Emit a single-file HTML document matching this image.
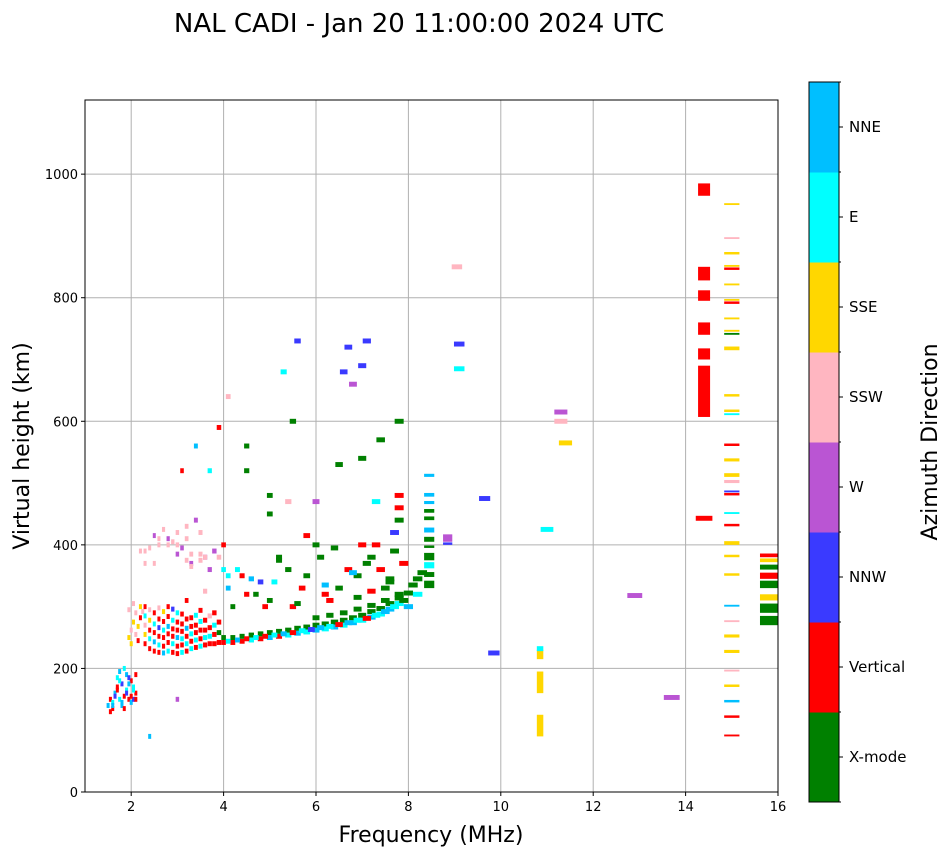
<!DOCTYPE html>
<html><head><meta charset="utf-8">
<style>
body{margin:0;background:#fff;font-family:"Liberation Sans","DejaVu Sans",sans-serif;}
svg text{font-family:"DejaVu Sans","Liberation Sans",sans-serif;}
</style></head>
<body>
<svg id="chart" width="951" height="856" xmlns="http://www.w3.org/2000/svg">
<text x="419" y="32" font-size="26" text-anchor="middle">NAL CADI - Jan 20 11:00:00 2024 UTC</text>
<g id="grid"></g>
<g id="marks"></g>
<rect x="85" y="100" width="693" height="692" fill="none" stroke="#000" stroke-width="1"/>
<g id="axes"></g>
<text x="431" y="842" font-size="22" text-anchor="middle">Frequency (MHz)</text>
<text transform="translate(29,446) rotate(-90)" font-size="22" text-anchor="middle">Virtual height (km)</text>
<g id="cbar"></g>
<text transform="translate(937,442) rotate(-90)" font-size="22" text-anchor="middle">Azimuth Direction</text>
</svg>
<script>
const catNames=["X-mode","Vertical","NNW","W","SSW","SSE","E","NNE"];
const catColors=["#008000","#ff0000","#3a3aff","#ba55d3","#ffb6c1","#ffd700","#00ffff","#00bfff"];
const xTicks=[2,4,6,8,10,12,14,16];
const yTicks=[0,200,400,600,800,1000];
const traceF=[1.5,1.55,1.6,1.65,1.7,1.75,1.8,1.85,1.9,1.95,2.0,2.05,2.1,1.7,1.9,2.0,2.05,1.6,1.8,
1.55,1.6,1.65,1.7,1.75,1.8,1.85,1.9,1.95,2.0,2.05,2.1,1.75,1.85,1.95,2.1,
1.95,2.0,2.05,2.1,2.15,2.2,2.25,2.0,2.1,2.2,1.95,2.05,2.15,
2.3,2.3,2.3,2.3,2.3,2.4,2.4,2.4,2.4,2.4,2.5,2.5,2.5,2.5,2.5,2.6,2.6,2.6,2.6,2.6,2.6,2.7,2.7,2.7,2.7,2.7,2.7,
2.8,2.8,2.8,2.8,2.8,2.8,2.9,2.9,2.9,2.9,2.9,2.9,3.0,3.0,3.0,3.0,3.0,3.0,3.1,3.1,3.1,3.1,3.1,3.1,
3.2,3.2,3.2,3.2,3.2,3.2,3.3,3.3,3.3,3.3,3.3,3.4,3.4,3.4,3.4,3.4,3.5,3.5,3.5,3.5,3.5,3.6,3.6,3.6,3.6,
3.7,3.7,3.7,3.7,3.8,3.8,3.8,3.8,3.9,3.9,3.9,
4.0,4.2,4.4,4.6,4.8,5.0,5.2,5.4,5.6,5.8,6.0,6.2,6.4,6.6,6.8,7.0,7.2,7.4,7.6,7.8,
4.0,4.2,4.4,4.6,4.8,5.0,5.2,5.4,5.6,5.8,6.0,6.2,6.4,6.6,6.8,7.0,7.2,7.4,7.6,7.8,
4.1,4.3,4.5,4.7,4.9,5.1,5.3,5.5,5.7,5.9,6.1,6.3,6.5,6.7,6.9,7.1,7.3,7.5,7.7,7.9,
6.0,6.3,6.6,6.9,7.2,7.5,7.8,8.0,8.1,8.2,8.3,8.0,8.2,
4.2,4.5,4.8,5.0,5.2,5.5,5.8,6.0,6.2,6.5,6.7,6.9,7.0,7.2,7.4,7.6,7.8,7.7,4.0,4.3,3.8,3.5,3.2,3.0,3.3,3.6,2.3,2.5,3.1,3.4,3.7,3.9,4.1,4.5,5.0,5.5,5.6,6.7,6.6,7.1,7.0,6.8,7.4,7.8,4.5,5.0,5.4,6.0,6.5,7.0,7.3,5.3,3.0,2.4,
4.1,4.4,4.7,5.1,5.4,5.7,6.1,6.3,6.8,7.1,7.3,7.5,7.7,7.9,4.6,5.2,5.8,6.4,7.2,7.6,6.9,6.2,5.6,4.9,4.0,3.6,7.8,7.8,
2.2,2.4,2.6,2.8,3.0,3.2,3.4,3.6,2.5,2.7,2.9,3.1,3.3,3.5,2.3,2.6,3.0,3.3,3.7,2.8,3.2,3.5,3.9,4.1,
9.05,9.1,9.1,9.65,9.85,11.0,11.3,11.3,11.4,12.9,13.7,14.4];
const traceH=[140,150,145,160,170,150,140,155,165,150,145,170,160,185,190,180,150,135,175,
130,140,155,165,180,145,135,160,175,155,165,150,195,200,185,190,
250,262,275,255,268,282,292,240,290,300,295,305,245,
240,255,270,285,300,232,248,262,278,295,228,243,258,272,290,226,238,252,266,280,298,225,236,250,262,276,292,
228,242,256,268,284,300,226,240,252,264,278,296,224,236,250,262,275,290,226,238,248,260,272,288,
228,240,252,265,280,310,232,244,256,268,282,234,246,258,270,286,236,248,262,276,294,238,250,262,278,
240,252,266,285,240,255,270,290,242,258,275,
242,242,244,246,248,250,252,254,257,259,262,264,267,270,274,278,283,288,296,305,
250,250,252,254,256,258,260,262,265,267,270,272,275,278,282,286,292,297,305,314,
244,246,248,250,252,254,256,258,261,263,266,268,271,274,278,281,286,292,300,310,
282,286,290,296,302,310,320,322,335,345,355,300,320,
300,320,340,310,380,300,350,400,320,330,360,350,400,380,360,340,460,390,400,360,390,420,410,400,370,380,390,370,520,560,520,590,640,560,480,600,730,720,680,730,690,660,570,600,520,450,470,470,530,540,470,680,150,90,
330,350,320,340,360,330,380,310,355,370,400,330,420,370,345,375,415,395,325,345,315,335,305,300,360,325,440,480,
390,395,400,410,420,430,440,380,415,425,405,395,385,375,370,410,385,365,360,400,375,385,380,350,
850,725,685,475,225,425,615,600,565,318,153,443];
const traceC=[7,1,6,7,1,6,7,1,6,1,7,6,1,6,7,1,2,1,2,
1,7,2,1,6,7,1,2,7,1,6,1,7,6,2,1,
5,4,5,4,5,1,4,5,4,5,4,4,1,
1,5,4,6,1,1,6,1,5,4,1,7,1,6,1,1,6,1,2,1,4,7,1,1,6,1,5,
6,1,1,7,1,1,1,6,1,1,6,2,1,1,7,1,1,6,6,1,6,1,1,1,
1,6,1,7,1,1,6,1,6,1,1,1,6,1,1,6,6,1,1,6,1,1,6,1,1,
1,6,1,4,1,1,6,1,1,0,1,
1,1,1,6,1,7,1,6,7,6,7,6,7,6,7,6,7,6,7,6,
0,0,0,0,0,0,0,0,0,0,0,0,0,0,0,0,0,0,0,0,
6,7,1,6,1,6,7,1,6,2,7,6,1,7,6,1,6,7,6,0,
0,0,0,0,0,0,0,0,0,0,0,7,6,
0,1,2,0,0,1,0,0,1,0,1,0,1,0,1,0,1,0,1,6,3,4,4,4,3,3,4,4,1,7,6,1,4,0,0,0,2,2,2,2,2,3,0,0,0,0,4,3,0,0,6,6,3,7,
7,1,0,6,0,1,0,1,7,0,1,0,2,1,7,0,1,0,1,0,0,7,0,1,6,4,0,1,
4,4,4,3,4,4,3,4,3,4,4,3,4,4,4,4,3,4,3,4,4,4,4,6,
4,2,6,2,2,6,3,4,5,3,3,1];
const barF=[8.45,8.45,8.45,8.45,8.45,8.45,8.45,8.45,8.45,8.45,8.45,8.45,8.85,8.85,10.85,10.85,10.85,10.85,14.4,14.4,14.4,14.4,14.4,14.4,
15.0,15.0,15.0,15.0,15.0,15.0,15.0,15.0,15.0,15.0,15.0,15.0,15.0,15.0,15.0,15.0,15.0,15.0,15.0,15.0,15.0,15.0,15.0,15.0,15.0,15.0,15.0,15.0,15.0,15.0,15.0,15.0,15.0,15.0,15.0,
15.8,15.8,15.8,15.8,15.8,15.8,15.8,15.8];
const barH=[330,348,362,375,395,405,420,440,452,466,478,510,400,405,90,160,215,228,607,700,740,795,828,965,
90,120,145,170,195,225,250,275,300,350,380,400,430,450,480,485,500,510,535,560,610,615,640,715,740,745,765,790,795,820,845,850,870,895,950,
270,290,310,330,345,360,372,380];
const barSpan=[12,8,10,12,4,8,8,6,6,5,6,5,4,12,35,35,15,8,83,18,20,17,22,20,
3,4,4,4,3,5,5,3,3,4,4,6,4,3,4,3,5,6,5,4,3,4,4,6,3,3,3,4,3,3,4,3,4,3,3,
15,15,10,12,10,8,6,6];
const barW=[0.22,0.22,0.22,0.22,0.22,0.22,0.22,0.22,0.22,0.22,0.22,0.22,0.2,0.2,0.14,0.14,0.14,0.14,0.26,0.26,0.26,0.26,0.26,0.26,
0.33,0.33,0.33,0.33,0.33,0.33,0.33,0.33,0.33,0.33,0.33,0.33,0.33,0.33,0.33,0.33,0.33,0.33,0.33,0.33,0.33,0.33,0.33,0.33,0.33,0.33,0.33,0.33,0.33,0.33,0.33,0.33,0.33,0.33,0.33,
0.38,0.38,0.38,0.38,0.38,0.38,0.38,0.38];
const barC=[0,0,6,0,0,0,7,0,0,7,7,7,2,3,5,5,5,6,1,1,1,1,1,1,
1,1,7,5,4,5,5,4,7,5,5,5,1,6,1,2,4,5,5,1,6,5,5,5,0,5,5,1,5,5,1,5,5,4,5,
0,0,5,0,1,0,5,1];
const X0=1.0,X1=16.0,Y0=0,Y1=1120,PL=85,PR=778,PT=100,PB=792;
function xs(f){return PL+(f-X0)/(X1-X0)*(PR-PL);}
function ys(h){return PB-(h-Y0)/(Y1-Y0)*(PB-PT);}
const NS="http://www.w3.org/2000/svg";
function mk(tag,attrs,parent){const e=document.createElementNS(NS,tag);for(const k in attrs)e.setAttribute(k,attrs[k]);parent.appendChild(e);return e;}
const grid=document.getElementById('grid'),axes=document.getElementById('axes'),marks=document.getElementById('marks'),cbar=document.getElementById('cbar');
xTicks.forEach(t=>{const x=xs(t);
const g=mk('line',{x1:x,x2:x,y1:PT,y2:PB,stroke:'#b0b0b0','stroke-width':1},grid);

mk('line',{x1:x,x2:x,y1:PB,y2:PB+4,stroke:'#000'},axes);
const l=mk('text',{x:x,y:PB+19,'font-size':13,'text-anchor':'middle'},axes);l.textContent=t;
});
yTicks.forEach(t=>{const y=ys(t);
const g=mk('line',{x1:PL,x2:PR,y1:y,y2:y,stroke:'#b0b0b0','stroke-width':1},grid);

mk('line',{x1:PL-4,x2:PL,y1:y,y2:y,stroke:'#000'},axes);
const l=mk('text',{x:PL-7,y:y+5,'font-size':13,'text-anchor':'end'},axes);l.textContent=t;
});
const pxPerMHz=(PR-PL)/(X1-X0),pxPerKm=(PB-PT)/(Y1-Y0);
traceF.forEach((f,i)=>{if(traceH[i]===undefined)return;const w=Math.max(3,0.025*f*pxPerMHz);
const r=mk('rect',{x:xs(f)-w/2,y:ys(traceH[i]+4),width:w,height:8*pxPerKm,fill:catColors[traceC[i]]},marks);
});
barF.forEach((f,i)=>{const w=barW[i]*pxPerMHz;
const r=mk('rect',{x:xs(f)-w/2,y:ys(barH[i]+barSpan[i]),width:w,height:barSpan[i]*pxPerKm,fill:catColors[barC[i]]},marks);
});
const CX=809,CW=30,CT=82,CB=802,ch=(CB-CT)/catNames.length;
catNames.forEach((n,i)=>{const y=CB-(i+1)*ch;
const r=mk('rect',{x:CX,y:y,width:CW,height:ch+0.5,fill:catColors[i]},cbar);

mk('line',{x1:CX+CW,x2:CX+CW+4,y1:y+ch/2,y2:y+ch/2,stroke:'#000'},cbar);
const l=mk('text',{x:CX+CW+10,y:y+ch/2+5,'font-size':15},cbar);l.textContent=n;
});
for(let i=0;i<=catNames.length;i++){const y=CB-i*ch;mk('line',{x1:CX+CW,x2:CX+CW+2,y1:y,y2:y,stroke:'#000'},cbar);}
mk('rect',{x:CX,y:CT,width:CW,height:CB-CT,fill:'none',stroke:'#000'},cbar);
</script>
</body></html>
